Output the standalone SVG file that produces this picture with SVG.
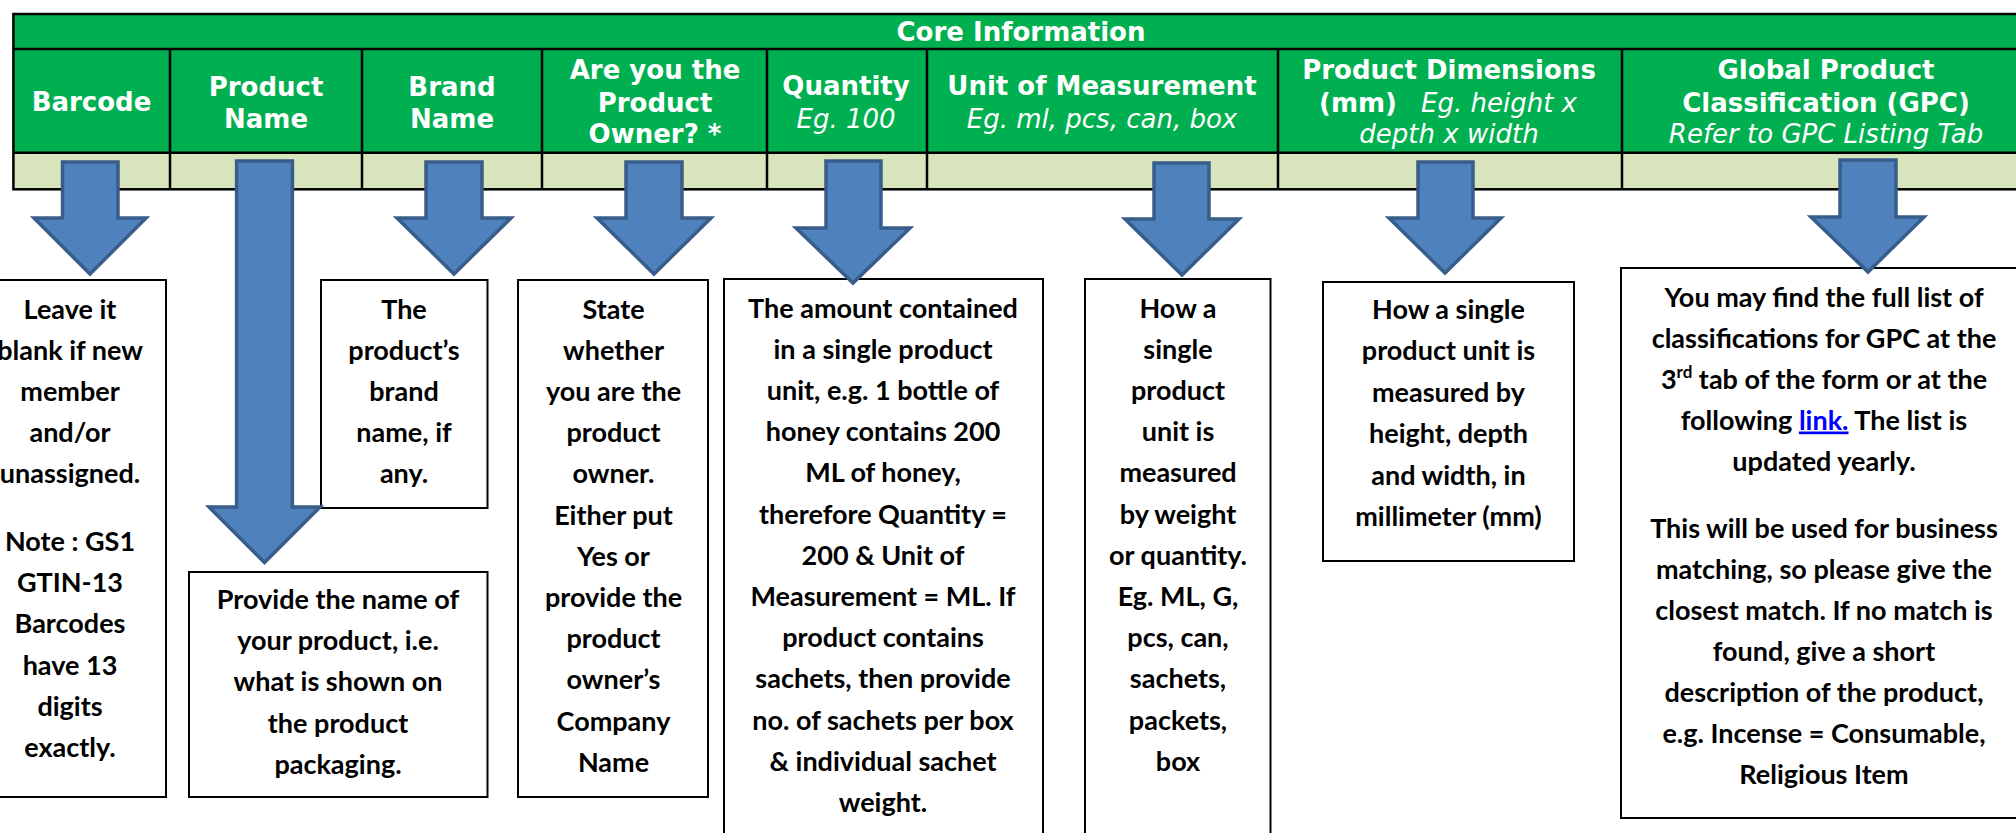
<svg xmlns="http://www.w3.org/2000/svg" width="2016" height="833" viewBox="0 0 2016 833">
<style>
.hdr{font-family:"DejaVu Sans",Verdana,sans-serif;font-weight:bold;font-size:26px;fill:#fff;text-anchor:middle}
.it{font-family:"DejaVu Sans",Verdana,sans-serif;font-style:oblique;font-weight:normal;font-size:26px;fill:#fff}
.grid{stroke:#000;stroke-width:2.5;fill:none}
.box{fill:#fff;stroke:#000;stroke-width:2}
.body{font-family:Lato,"Liberation Sans",sans-serif;font-weight:bold;font-size:27px;fill:#000;text-anchor:middle}
.arrow{fill:#4F81BD;stroke:#385D8A;stroke-width:3.5;stroke-linejoin:miter}
.link{fill:#0000FF;text-decoration:underline}
</style>
<rect width="2016" height="833" fill="#fff"/>
<g id="core-table">
<rect x="13.4" y="14" width="2030" height="138.7" fill="#00B050"/>
<rect x="13.4" y="152.7" width="2030" height="36.6" fill="#D8E4BC"/>
<rect class="grid" x="13.4" y="14" width="2030" height="175.3"/>
<line class="grid" x1="13.4" y1="49" x2="2043" y2="49"/>
<line class="grid" x1="13.4" y1="152.7" x2="2043" y2="152.7"/>
<path class="grid" d="M170,49V189.3M362,49V189.3M542,49V189.3M767,49V189.3M927,49V189.3M1278,49V189.3M1622,49V189.3"/>
<text class="hdr" x="1021" y="40.7">Core Information</text>
<text class="hdr" x="91.5" y="111">Barcode</text>
<text class="hdr" x="266" y="96">Product<tspan x="266" y="128">Name</tspan></text>
<text class="hdr" x="452" y="96">Brand<tspan x="452" y="128">Name</tspan></text>
<text class="hdr" x="655" y="79.3">Are you the<tspan x="655" y="111.7">Product</tspan><tspan x="655" y="143.3">Owner? *</tspan></text>
<text class="hdr" x="846" y="95">Quantity</text>
<text class="it" x="846" y="128" text-anchor="middle">Eg. 100</text>
<text class="hdr" x="1102" y="95">Unit of Measurement</text>
<text class="it" x="1102" y="128" text-anchor="middle">Eg. ml, pcs, can, box</text>
<text class="hdr" x="1449" y="79.3">Product Dimensions</text>
<text class="hdr" x="1319" y="111.7" style="text-anchor:start">(mm)</text>
<text class="it" x="1421" y="111.7">Eg. height x</text>
<text class="it" x="1449" y="143.3" text-anchor="middle">depth x width</text>
<text class="hdr" x="1826" y="79.3">Global Product</text>
<text class="hdr" x="1826" y="111.7">Classification (GPC)</text>
<text class="it" x="1826" y="143.3" text-anchor="middle">Refer to GPC Listing Tab</text>
</g>
<g id="barcode-note">
<rect class="box" x="-20" y="280" width="186" height="517"/>
<text class="body" x="70" y="318.5">Leave it<tspan x="70" y="359.7">blank if new</tspan><tspan x="70" y="400.9">member</tspan><tspan x="70" y="442.1">and/or</tspan><tspan x="70" y="483.3">unassigned.</tspan><tspan x="70" y="551">Note : GS1</tspan><tspan x="70" y="592.2">GTIN-13</tspan><tspan x="70" y="633.4">Barcodes</tspan><tspan x="70" y="674.6">have 13</tspan><tspan x="70" y="715.8">digits</tspan><tspan x="70" y="757">exactly.</tspan></text>
</g>
<g id="product-name-note">
<rect class="box" x="189" y="572" width="298.5" height="225"/>
<text class="body" x="338" y="609">Provide the name of<tspan x="338" y="650.2">your product, i.e.</tspan><tspan x="338" y="691.4">what is shown on</tspan><tspan x="338" y="732.6">the product</tspan><tspan x="338" y="773.8">packaging.</tspan></text>
</g>
<g id="brand-name-note">
<rect class="box" x="321" y="280" width="166.5" height="228"/>
<text class="body" x="404" y="318.5">The<tspan x="404" y="359.7">product’s</tspan><tspan x="404" y="400.9">brand</tspan><tspan x="404" y="442.1">name, if</tspan><tspan x="404" y="483.3">any.</tspan></text>
</g>
<g id="owner-note">
<rect class="box" x="518" y="280" width="190" height="517"/>
<text class="body" x="613.5" y="318.5">State<tspan x="613.5" y="359.7">whether</tspan><tspan x="613.5" y="400.9">you are the</tspan><tspan x="613.5" y="442.1">product</tspan><tspan x="613.5" y="483.3">owner.</tspan><tspan x="613.5" y="524.5">Either put</tspan><tspan x="613.5" y="565.7">Yes or</tspan><tspan x="613.5" y="606.9">provide the</tspan><tspan x="613.5" y="648.1">product</tspan><tspan x="613.5" y="689.3">owner’s</tspan><tspan x="613.5" y="730.5">Company</tspan><tspan x="613.5" y="771.7">Name</tspan></text>
</g>
<g id="quantity-note">
<rect class="box" x="724" y="279" width="319" height="580"/>
<text class="body" x="883" y="317.5">The amount contained<tspan x="883" y="358.7">in a single product</tspan><tspan x="883" y="399.9">unit, e.g. 1 bottle of</tspan><tspan x="883" y="441.1">honey contains 200</tspan><tspan x="883" y="482.3">ML of honey,</tspan><tspan x="883" y="523.5">therefore Quantity =</tspan><tspan x="883" y="564.7">200 &amp; Unit of</tspan><tspan x="883" y="605.9">Measurement = ML. If</tspan><tspan x="883" y="647.1">product contains</tspan><tspan x="883" y="688.3">sachets, then provide</tspan><tspan x="883" y="729.5">no. of sachets per box</tspan><tspan x="883" y="770.7">&amp; individual sachet</tspan><tspan x="883" y="811.9">weight.</tspan></text>
</g>
<g id="unit-note">
<rect class="box" x="1085" y="279" width="185.5" height="580"/>
<text class="body" x="1178" y="317.5">How a<tspan x="1178" y="358.7">single</tspan><tspan x="1178" y="399.9">product</tspan><tspan x="1178" y="441.1">unit is</tspan><tspan x="1178" y="482.3">measured</tspan><tspan x="1178" y="523.5">by weight</tspan><tspan x="1178" y="564.7">or quantity.</tspan><tspan x="1178" y="605.9">Eg. ML, G,</tspan><tspan x="1178" y="647.1">pcs, can,</tspan><tspan x="1178" y="688.3">sachets,</tspan><tspan x="1178" y="729.5">packets,</tspan><tspan x="1178" y="770.7">box</tspan></text>
</g>
<g id="dimensions-note">
<rect class="box" x="1323" y="282" width="251" height="279"/>
<text class="body" x="1448.5" y="319">How a single<tspan x="1448.5" y="360.4">product unit is</tspan><tspan x="1448.5" y="401.8">measured by</tspan><tspan x="1448.5" y="443.2">height, depth</tspan><tspan x="1448.5" y="484.6">and width, in</tspan><tspan x="1448.5" y="526">millimeter (mm)</tspan></text>
</g>
<g id="gpc-note">
<rect class="box" x="1621" y="268" width="420" height="550"/>
<text class="body" x="1824" y="306.5">You may find the full list of<tspan x="1824" y="347.5">classifications for GPC at the</tspan><tspan x="1824" y="388.5">3<tspan font-size="17" dy="-11">rd</tspan><tspan dy="11"> tab of the form or at the</tspan></tspan><tspan x="1824" y="429.5">following <tspan class="link">link.</tspan> The list is</tspan><tspan x="1824" y="470.5">updated yearly.</tspan><tspan x="1824" y="537.5">This will be used for business</tspan><tspan x="1824" y="578.5">matching, so please give the</tspan><tspan x="1824" y="619.5">closest match. If no match is</tspan><tspan x="1824" y="660.5">found, give a short</tspan><tspan x="1824" y="701.5">description of the product,</tspan><tspan x="1824" y="742.5">e.g. Incense = Consumable,</tspan><tspan x="1824" y="783.5">Religious Item</tspan></text>
</g>
<g id="connectors">
<path class="arrow" d="M62.5,162H118V218H146L90,274L34,218H62.5Z"/>
<path class="arrow" d="M236.6,161H292.4V507H320L264.5,562.6L209,507H236.6Z"/>
<path class="arrow" d="M426,162H482V218H511L454,274L397,218H426Z"/>
<path class="arrow" d="M626,162H682V218H711L654,274L597,218H626Z"/>
<path class="arrow" d="M826,161H881V228H910L853,283L796,228H826Z"/>
<path class="arrow" d="M1154,163H1209V219H1239L1182,275L1125,219H1154Z"/>
<path class="arrow" d="M1418,162H1473V218H1501L1445,273L1389,218H1418Z"/>
<path class="arrow" d="M1840,160H1896V217H1924L1868,272L1811,217H1840Z"/>
</g>
</svg>
